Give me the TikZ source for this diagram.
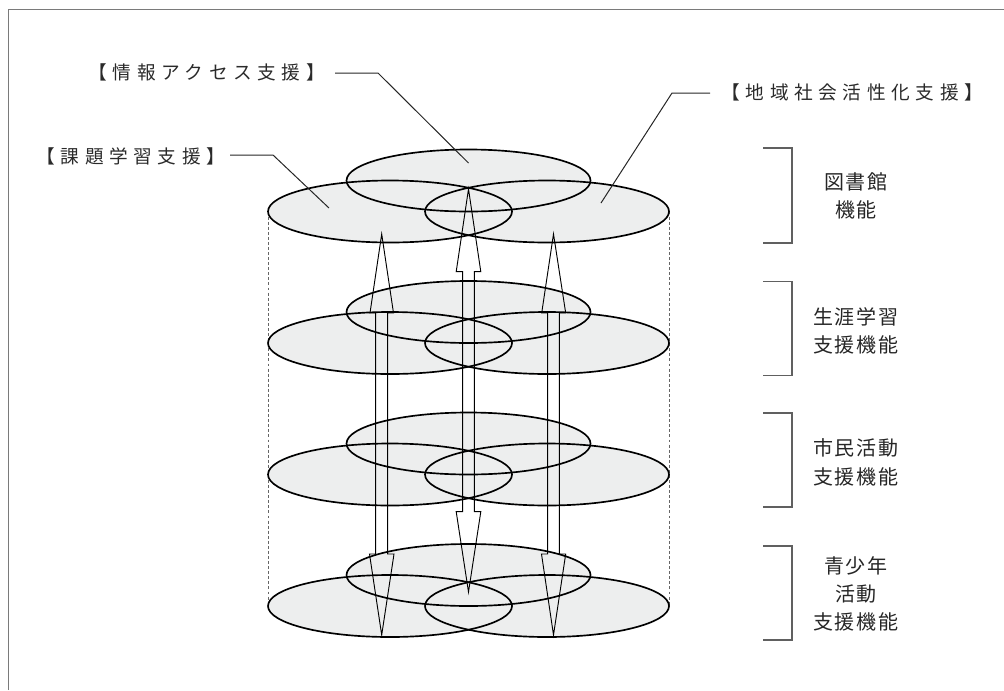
\documentclass[tikz,border=0pt]{standalone}
\usepackage{fontspec}
\newfontfamily\lblfont[LetterSpace=30]{Noto Sans CJK JP}
\newfontfamily\fnfont[LetterSpace=8]{Noto Sans CJK JP}
\definecolor{layerfill}{HTML}{EDEEEE}
\definecolor{framegray}{HTML}{7A7A7A}
\definecolor{bracketgray}{HTML}{606060}
\definecolor{labelgray}{HTML}{2A2A2A}
\tikzset{
  layerline/.style={draw=black, line width=1.25pt},
  arrowline/.style={draw=black, line width=0.7pt, line join=miter},
  leader/.style={draw=black!85, line width=0.75pt},
  bracketline/.style={draw=bracketgray, line width=1.1pt},
  guide/.style={draw=black!60, line width=0.65pt, dash pattern=on 2.2pt off 1.6pt},
  toplabel/.style={anchor=base, inner sep=0pt, text=labelgray, font=\lblfont\fontsize{14}{16}\selectfont},
  fnlabel/.style={anchor=base, inner sep=0pt, text=black!85, font=\fnfont\fontsize{15}{18}\selectfont},
}
\begin{document}
\begin{tikzpicture}[x=0.75pt,y=-0.75pt]
\useasboundingbox (0,0) rectangle (1004,690);
% frame
\draw[framegray, line width=0.8pt] (8.3,690) -- (8.3,9.5) -- (1004,9.5);

% guide dashed lines
\coordinate (gl1) at (268,211.5);
\coordinate (gl2) at (268,606);
\coordinate (gr1) at (669,211.5);
\coordinate (gr2) at (669,606);
\draw[guide] (gl1) -- (gl2);
\draw[guide] (gr1) -- (gr2);

% layers
\foreach \k in {0,1,2,3}{
  \pgfmathsetmacro{\cy}{211.5+131.5*\k}
  \pgfmathsetmacro{\by}{\cy-31}
  \fill[layerfill] (468.5,\by) ellipse [x radius=122, y radius=31];
  \fill[layerfill] (390,\cy) ellipse [x radius=122, y radius=31];
  \fill[layerfill] (547,\cy) ellipse [x radius=122, y radius=31];
  \draw[layerline] (468.5,\by) ellipse [x radius=122, y radius=31];
  \draw[layerline] (390,\cy) ellipse [x radius=122, y radius=31];
  \draw[layerline] (547,\cy) ellipse [x radius=122, y radius=31];
}

% hollow double arrows
% left
\draw[arrowline] (381.7,234) -- (393.5,313) -- (387.7,313) -- (387.7,554) -- (394,554)
  -- (381.7,635) -- (369.5,554) -- (375.7,554) -- (375.7,313) -- (370,313) -- cycle;
% right
\draw[arrowline] (553.5,234) -- (565.7,313) -- (559.3,313) -- (559.3,554) -- (565.7,554)
  -- (553.5,635) -- (541.5,554) -- (547.7,554) -- (547.7,313) -- (541.7,313) -- cycle;
% centre
\draw[arrowline] (468.5,189) -- (480.8,271.7) -- (474.4,271.7) -- (474.4,511.7) -- (480.8,511.7)
  -- (468.5,592) -- (456.2,511.7) -- (462.7,511.7) -- (462.7,271.7) -- (456.2,271.7) -- cycle;

% top labels
\node[toplabel] (info) at (206.8,79.9) {【情報アクセス支援】};
\node[toplabel] (task) at (130.8,163.6) {【課題学習支援】};
\node[toplabel] (comm) at (852.3,99.9) {【地域社会活性化支援】};

\coordinate (infoA) at (335,73);
\coordinate (infoB) at (378,73);
\coordinate (infoC) at (468.5,163);
\draw[leader] (infoA) -- (infoB) -- (infoC);
\coordinate (taskA) at (230,155);
\coordinate (taskB) at (273,155);
\coordinate (taskC) at (329,208);
\draw[leader] (taskA) -- (taskB) -- (taskC);
\coordinate (commA) at (710,93);
\coordinate (commB) at (672,93);
\coordinate (commC) at (601,203);
\draw[leader] (commA) -- (commB) -- (commC);

% brackets
\draw[bracketline] (763,148) -- (792,148) -- (792,243) -- (763,243);
\draw[bracketline] (763,281.7) -- (792,281.7) -- (792,375.7) -- (763,375.7);
\draw[bracketline] (763,413) -- (792,413) -- (792,507) -- (763,507);
\draw[bracketline] (763,546) -- (792,546) -- (792,640) -- (763,640);

% function labels
\node[fnlabel] (f1a) at (855.8,189.1) {図書館};
\node[fnlabel] (f1b) at (855.8,217.4) {機能};
\node[fnlabel] (f2a) at (855.8,324.1) {生涯学習};
\node[fnlabel] (f2b) at (855.8,352.4) {支援機能};
\node[fnlabel] (f3a) at (855.8,455.4) {市民活動};
\node[fnlabel] (f3b) at (855.8,484.1) {支援機能};
\node[fnlabel] (f4a) at (855.8,573.4) {青少年};
\node[fnlabel] (f4b) at (855.8,601.4) {活動};
\node[fnlabel] (f4c) at (855.8,629.1) {支援機能};
\end{tikzpicture}
\end{document}
